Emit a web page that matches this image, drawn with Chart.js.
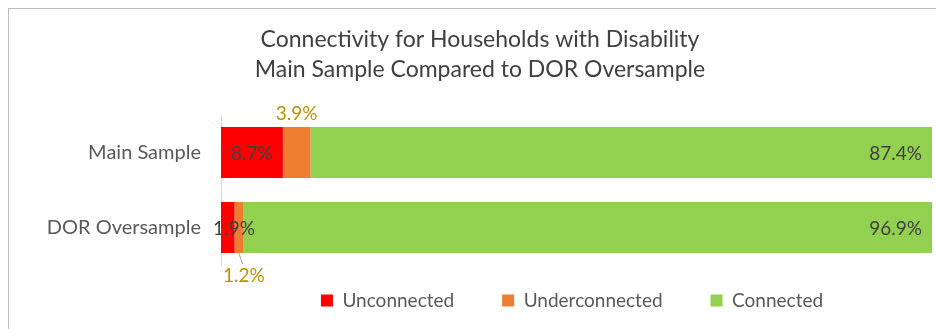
<!DOCTYPE html>
<html><head><meta charset="utf-8">
<script src="https://cdn.jsdelivr.net/npm/chart.js@4"></script>
<style>
html,body{margin:0;padding:0;background:#fff;}
#wrap{position:relative;width:936px;height:329px;}
#frame{position:absolute;left:8px;top:8px;width:940px;height:340px;border:1px solid #bfbfbf;box-sizing:border-box;}
canvas{position:absolute;left:0;top:0;}
</style></head>
<body><div id="wrap"><div id="frame"></div><canvas id="c" width="936" height="329"></canvas></div>
<script>
const titleLines = ['Connectivity for Households with Disability', 'Main Sample Compared to DOR Oversample'];
const categories = ['Main Sample', 'DOR Oversample'];
const seriesNames = ['Unconnected', 'Underconnected', 'Connected'];
const unconnected = [8.7, 1.9];
const underconnected = [3.9, 1.2];
const connected = [87.4, 96.9];
const seriesColors = ['#ff0000', '#ed7d31', '#92d050'];

const FONT = 'Lato, "Open Sans", sans-serif';

const labelPlugin = {
  id: 'labels',
  afterLayout(chart) {
    const lg = chart.legend;
    if (lg) { lg.top -= 22; lg.bottom -= 22; lg.left += 92; lg.right += 92; }
  },
  afterDatasetsDraw(chart) {
    const ctx = chart.ctx;
    ctx.save();
    ctx.font = '19px ' + FONT;
    ctx.textBaseline = 'middle';
    chart.data.datasets.forEach((ds, di) => {
      const meta = chart.getDatasetMeta(di);
      meta.data.forEach((el, i) => {
        const txt = ds.data[i].toFixed(1) + '%';
        const p = el.getProps(['x', 'y', 'base', 'height'], true);
        const cx = (p.x + p.base) / 2;
        if (di === 0) {
          ctx.fillStyle = '#404040';
          ctx.textAlign = 'center';
          ctx.fillText(txt, Math.max(cx, p.base + 13), p.y + 1);
        } else if (di === 1) {
          ctx.fillStyle = '#bf9000';
          ctx.textAlign = 'center';
          if (i === 0) {
            ctx.fillText(txt, cx, p.y - p.height / 2 - 13);
          } else {
            ctx.strokeStyle = '#a6a6a6';
            ctx.lineWidth = 1;
            ctx.beginPath();
            ctx.moveTo(cx, p.y + p.height / 2);
            ctx.lineTo(cx + 4, p.y + p.height / 2 + 11);
            ctx.stroke();
            ctx.fillText(txt, cx + 5, p.y + p.height / 2 + 23);
          }
        } else {
          ctx.fillStyle = '#404040';
          ctx.textAlign = 'right';
          ctx.fillText(txt, p.x - 10, p.y + 1);
        }
      });
    });
    ctx.restore();
  }
};

new Chart(document.getElementById('c'), {
  type: 'bar',
  data: {
    labels: categories,
    datasets: [
      { label: seriesNames[0], data: unconnected, backgroundColor: seriesColors[0] },
      { label: seriesNames[1], data: underconnected, backgroundColor: seriesColors[1] },
      { label: seriesNames[2], data: connected, backgroundColor: seriesColors[2] }
    ]
  },
  options: {
    indexAxis: 'y',
    responsive: false,
    animation: false,
    devicePixelRatio: 1,
    layout: { padding: { left: 28, right: 4, top: 0, bottom: 0 } },
    datasets: { bar: { barPercentage: 0.68, categoryPercentage: 1.0 } },
    scales: {
      x: { stacked: true, min: 0, max: 100, display: false },
      y: {
        stacked: true,
        grid: { display: false },
        border: { display: true, color: '#d9d9d9' },
        ticks: { color: '#595959', font: { size: 20, family: FONT }, padding: 12 },
        afterFit(s) { s.width = 193; }
      }
    },
    plugins: {
      title: {
        display: true,
        text: titleLines,
        color: '#404040',
        font: { size: 23, family: FONT, weight: 'normal', lineHeight: 30 / 23 },
        padding: { top: 25, bottom: 30 }
      },
      legend: {
        position: 'bottom',
        maxHeight: 64,
        labels: { color: '#595959', font: { size: 19, family: FONT }, boxWidth: 12, boxHeight: 12, padding: 48 }
      },
      tooltip: { enabled: false }
    }
  },
  plugins: [labelPlugin]
});
</script></body></html>
